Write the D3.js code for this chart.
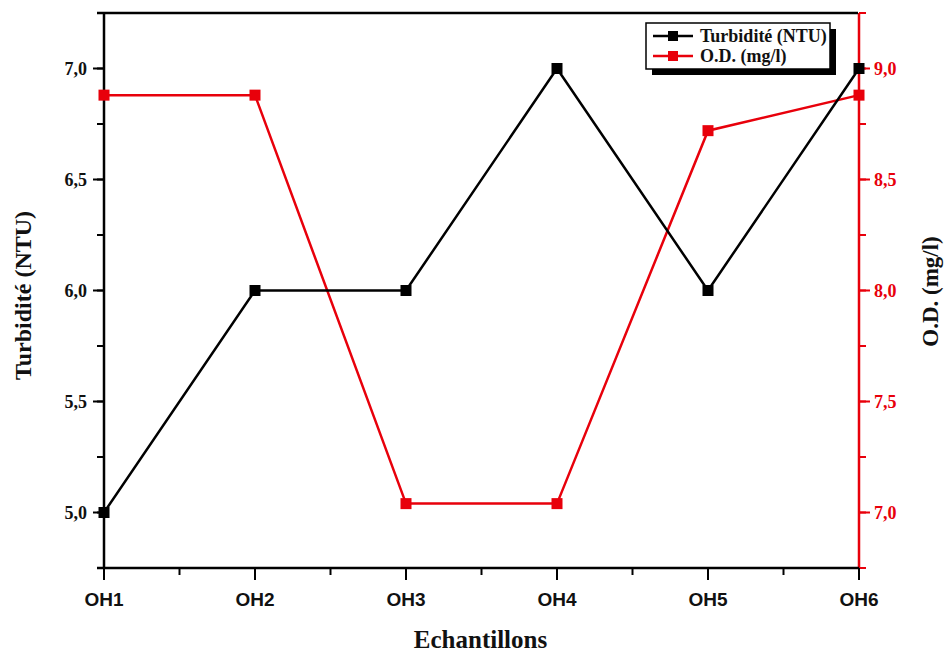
<!DOCTYPE html>
<html>
<head>
<meta charset="utf-8">
<script src="https://cdn.jsdelivr.net/npm/d3@7"></script>
<style>
  html, body { margin: 0; padding: 0; background: #fff; }
  svg { display: block; }
</style>
</head>
<body>
<svg id="chart" width="945" height="655"></svg>
<script>
// Sample sites and measured values
const samples = ["OH1", "OH2", "OH3", "OH4", "OH5", "OH6"];
const turbidity = [5.0, 6.0, 6.0, 7.0, 6.0, 7.0];      // NTU
const dissolvedO2 = [8.88, 8.88, 7.04, 7.04, 8.72, 8.88]; // mg/l
const leftTicks = [5.0, 5.5, 6.0, 6.5, 7.0];
const rightTicks = [7.0, 7.5, 8.0, 8.5, 9.0];

const RED = "#e8000b";
const svg = d3.select("#chart");
const margin = { left: 104, right: 86, top: 13, bottom: 87 };
const W = 945, H = 655;
const x0 = margin.left, x1 = W - margin.right, y0 = margin.top, y1 = H - margin.bottom;

const x = d3.scalePoint().domain(samples).range([x0, x1]);
const yL = d3.scaleLinear().domain([4.75, 7.25]).range([y1, y0]);
const yR = d3.scaleLinear().domain([6.75, 9.25]).range([y1, y0]);
const fmt = d => d3.format(".1f")(d).replace(".", ",");

const serif = "'Liberation Serif', 'Times New Roman', serif";
const sans = "'Liberation Sans', Arial, sans-serif";

// Left axis
const gL = svg.append("g").attr("transform", `translate(${x0},0)`);
gL.append("line").attr("y1", y0).attr("y2", y1).attr("stroke", "#000").attr("stroke-width", 2.5);
const minorL = d3.range(4.75, 7.26, 0.25);
gL.selectAll(".mn").data(minorL).join("line")
  .attr("x1", -7).attr("x2", 0).attr("y1", d => yL(d)).attr("y2", d => yL(d))
  .attr("stroke", "#000").attr("stroke-width", 2);
gL.selectAll(".mj").data(leftTicks).join("line")
  .attr("x1", -11).attr("x2", 0).attr("y1", d => yL(d)).attr("y2", d => yL(d))
  .attr("stroke", "#000").attr("stroke-width", 2);
gL.selectAll("text").data(leftTicks).join("text")
  .attr("x", -17).attr("y", d => yL(d)).attr("dy", "0.35em")
  .attr("text-anchor", "end").attr("font-family", serif).attr("font-weight", "bold")
  .attr("font-size", 18).attr("fill", "#111").text(fmt);

// Right axis
const gR = svg.append("g").attr("transform", `translate(${x1},0)`);
gR.append("line").attr("y1", y0).attr("y2", y1).attr("stroke", RED).attr("stroke-width", 2.5);
const minorR = d3.range(6.75, 9.26, 0.25);
gR.selectAll(".mn").data(minorR).join("line")
  .attr("x1", 0).attr("x2", 7).attr("y1", d => yR(d)).attr("y2", d => yR(d))
  .attr("stroke", RED).attr("stroke-width", 2);
gR.selectAll(".mj").data(rightTicks).join("line")
  .attr("x1", 0).attr("x2", 11).attr("y1", d => yR(d)).attr("y2", d => yR(d))
  .attr("stroke", RED).attr("stroke-width", 2);
gR.selectAll("text").data(rightTicks).join("text")
  .attr("x", 15).attr("y", d => yR(d)).attr("dy", "0.35em")
  .attr("text-anchor", "start").attr("font-family", serif).attr("font-weight", "bold")
  .attr("font-size", 18).attr("fill", RED).text(fmt);

// Top frame line
svg.append("line").attr("x1", x0 - 7).attr("x2", x1 - 1).attr("y1", y0).attr("y2", y0)
  .attr("stroke", "#000").attr("stroke-width", 2.5);

// Bottom axis
const gB = svg.append("g").attr("transform", `translate(0,${y1})`);
gB.append("line").attr("x1", x0 - 7).attr("x2", x1).attr("stroke", "#000").attr("stroke-width", 2.5);
const step = x.step();
const minorX = samples.slice(0, -1).map(s => x(s) + step / 2);
gB.selectAll(".mn").data(minorX).join("line")
  .attr("x1", d => d).attr("x2", d => d).attr("y1", 0).attr("y2", 7)
  .attr("stroke", "#000").attr("stroke-width", 2);
gB.selectAll(".mj").data(samples).join("line")
  .attr("x1", d => x(d)).attr("x2", d => x(d)).attr("y1", 0).attr("y2", 12)
  .attr("stroke", "#000").attr("stroke-width", 2);
gB.selectAll("text").data(samples).join("text")
  .attr("x", d => x(d)).attr("y", 38)
  .attr("text-anchor", "middle").attr("font-family", sans).attr("font-weight", "bold")
  .attr("font-size", 19).attr("fill", "#111").text(d => d);

// Axis titles
svg.append("text").attr("x", (x0 + x1) / 2 - 1).attr("y", 648).attr("text-anchor", "middle")
  .attr("font-family", serif).attr("font-weight", "bold").attr("font-size", 25).attr("fill", "#111")
  .text("Echantillons");
svg.append("text").attr("transform", `translate(31,${(y0 + y1) / 2 + 5}) rotate(-90)`)
  .attr("text-anchor", "middle").attr("font-family", serif).attr("font-weight", "bold")
  .attr("font-size", 24).attr("fill", "#111").text("Turbidité (NTU)");
svg.append("text").attr("transform", `translate(938,${(y0 + y1) / 2 + 1}) rotate(-90)`)
  .attr("text-anchor", "middle").attr("font-family", serif).attr("font-weight", "bold")
  .attr("font-size", 23).attr("fill", "#111").text("O.D. (mg/l)");

// Series
const MS = 11;
function series(values, yScale, color) {
  const line = d3.line().x((d, i) => x(samples[i])).y(d => yScale(d));
  svg.append("path").datum(values).attr("d", line)
    .attr("fill", "none").attr("stroke", color).attr("stroke-width", 2.5);
  svg.append("g").selectAll("rect").data(values).join("rect")
    .attr("x", (d, i) => x(samples[i]) - MS / 2).attr("y", d => yScale(d) - MS / 2)
    .attr("width", MS).attr("height", MS).attr("fill", color);
}
series(dissolvedO2, yR, RED);
series(turbidity, yL, "#000");

// Legend
const lg = svg.append("g").attr("transform", "translate(646,23)");
lg.append("rect").attr("x", 6).attr("y", 6).attr("width", 184).attr("height", 46).attr("fill", "#000");
lg.append("rect").attr("x", 0).attr("y", 0).attr("width", 184).attr("height", 46)
  .attr("fill", "#fff").attr("stroke", "#000").attr("stroke-width", 1.5);
const entries = [{ label: "Turbidité (NTU)", color: "#000" }, { label: "O.D. (mg/l)", color: RED }];
entries.forEach((e, i) => {
  const cy = 13 + i * 20;
  lg.append("line").attr("x1", 7).attr("x2", 47).attr("y1", cy).attr("y2", cy)
    .attr("stroke", e.color).attr("stroke-width", 2.5);
  lg.append("rect").attr("x", 27 - 5).attr("y", cy - 5).attr("width", 10).attr("height", 10).attr("fill", e.color);
  lg.append("text").attr("x", 54).attr("y", cy).attr("dy", "0.35em")
    .attr("font-family", serif).attr("font-weight", "bold").attr("font-size", 18).attr("fill", "#111")
    .text(e.label);
});
</script>
</body>
</html>
